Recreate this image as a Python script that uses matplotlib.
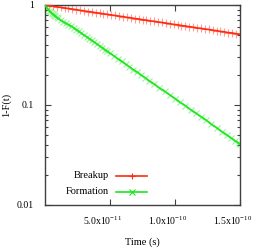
import matplotlib
matplotlib.use("Agg")
import matplotlib.pyplot as plt
import matplotlib.transforms as mtransforms
from matplotlib.ticker import FixedLocator, LogLocator, NullFormatter

plt.rcParams['font.family'] = ['Liberation Serif', 'DejaVu Serif']
plt.rcParams['mathtext.fontset'] = 'custom'
plt.rcParams['mathtext.rm'] = 'Liberation Serif'
plt.rcParams['mathtext.default'] = 'regular'

# Breakup survival (time in ps, value 1-F(t))
breakup_t = [0, 3, 6, 9, 12, 15, 18, 21, 24, 27, 30, 33, 36, 39, 42, 45, 48, 51, 54, 57,
             60, 63, 66, 69, 72, 75, 78, 81, 84, 87, 90, 93, 96, 99, 102, 105, 108, 111,
             114, 117, 120, 123, 126, 129, 132, 135, 138, 141, 144, 147, 150]
breakup_v = [1.000, 0.986, 0.975, 0.958, 0.948, 0.933, 0.923, 0.908, 0.899, 0.884,
             0.875, 0.860, 0.852, 0.837, 0.829, 0.815, 0.807, 0.793, 0.786, 0.772,
             0.765, 0.752, 0.745, 0.732, 0.725, 0.712, 0.706, 0.693, 0.687, 0.675,
             0.669, 0.657, 0.651, 0.639, 0.634, 0.622, 0.617, 0.606, 0.600, 0.589,
             0.584, 0.574, 0.569, 0.558, 0.554, 0.544, 0.539, 0.529, 0.525, 0.516, 0.510]

# Formation survival
formation_t = [0, 1, 2, 3, 4, 5, 6, 7, 8, 9, 10, 12, 14, 16, 18, 20, 22, 24, 26, 28,
               30, 32, 34, 36, 38, 40, 42, 44, 46, 48, 50, 53, 56, 59, 62, 65, 68, 71,
               74, 77, 80, 84, 88, 92, 96, 100, 104, 108, 112, 116, 120, 124, 128, 132,
               136, 140, 143, 146, 149, 150]
formation_v = [1.000, 0.950, 0.912, 0.881, 0.855, 0.832, 0.809, 0.789, 0.769, 0.750,
               0.733, 0.705, 0.679, 0.658, 0.637, 0.617, 0.592, 0.568, 0.545, 0.521,
               0.500, 0.482, 0.460, 0.443, 0.423, 0.407, 0.389, 0.374, 0.357, 0.344,
               0.329, 0.310, 0.290, 0.273, 0.256, 0.241, 0.225, 0.213, 0.199, 0.188,
               0.175, 0.162, 0.148, 0.137, 0.126, 0.116, 0.106, 0.0985, 0.0898, 0.0830,
               0.0765, 0.0705, 0.0643, 0.0592, 0.0543, 0.0500, 0.0470, 0.0441, 0.0414, 0.0405]

xticks = [5e-11, 1e-10, 1.5e-10]
xticklabels = [r'5.0x10$^{-11}$', r'1.0x10$^{-10}$', r'1.5x10$^{-10}$']
yticks = [0.01, 0.1, 1]
yticklabels = ['0.01', '0.1', '1']
series_names = ['Breakup', 'Formation']

red = '#ff2a10'
green = '#1ee61e'

fig = plt.figure(figsize=(2.55, 2.5), dpi=100)
ax = fig.add_axes([45/255, 1-205/250, 195/255, 200/250])

bt = [t * 1e-12 for t in breakup_t]
ft = [t * 1e-12 for t in formation_t]

ax.plot(bt, breakup_v, color=red, lw=1.2, zorder=3)
ax.plot(bt, breakup_v, ls='none', marker='+', ms=6, mew=0.8, color=red, alpha=0.45, zorder=2)
ax.plot(ft, formation_v, color=green, lw=1.2, zorder=3)
ax.plot(ft, formation_v, ls='none', marker='x', ms=5, mew=0.8, color=green, alpha=0.45, zorder=2)

ax.set_yscale('log')
ax.set_xlim(0, 1.5e-10)
ax.set_ylim(0.01, 1)

ax.xaxis.set_major_locator(FixedLocator(xticks))
ax.set_xticklabels([''] * len(xticks))
# gnuplot places these labels slightly left of the tick
xlab_tr = mtransforms.blended_transform_factory(ax.transData, ax.transAxes) + \
    mtransforms.ScaledTranslation(-7/100, -16/100, fig.dpi_scale_trans)
for xv, lab in zip(xticks, xticklabels):
    ax.text(xv, 0, lab, transform=xlab_tr, ha='center', va='center', fontsize=7)

ax.yaxis.set_major_locator(FixedLocator(yticks))
ax.set_yticklabels(yticklabels, fontsize=7)
ax.yaxis.set_minor_locator(LogLocator(base=10, subs=range(2, 10)))
ax.yaxis.set_minor_formatter(NullFormatter())

axcol = '#404040'
for s in ax.spines.values():
    s.set_color(axcol)
    s.set_linewidth(1.0)
ax.tick_params(which='both', direction='in', top=True, right=True, colors=axcol, labelcolor='black')
ax.tick_params(axis='x', which='major', length=4.5, width=0.8, pad=7)
ax.tick_params(axis='y', which='major', length=4.5, width=0.8, pad=8)
ax.tick_params(which='minor', length=2.5, width=0.8)

ax.set_xlabel('Time (s)', fontsize=7.5, labelpad=16)
ax.set_ylabel('1-F(t)', fontsize=7.5, labelpad=4)

# gnuplot-style key: text right-aligned, sample line to the right
key_text_x = (109 - 45) / 195
key_line_x0 = (116 - 45) / 195
key_line_x1 = (147 - 45) / 195
key_y = [(205 - 175.5) / 200, (205 - 192) / 200]
styles = [(red, '+', 5), (green, 'x', 4)]
for name, y, (c, m, ms) in zip(series_names, key_y, styles):
    ax.text(key_text_x, y, name, transform=ax.transAxes, ha='right', va='center',
            fontsize=7.5)
    ax.plot([key_line_x0, key_line_x1], [y, y], transform=ax.transAxes, color=c,
            lw=1.2, clip_on=False)
    ax.plot([(key_line_x0 + key_line_x1) / 2], [y], transform=ax.transAxes, color=c,
            marker=m, ms=ms, mew=0.8, clip_on=False)

fig.savefig('out.png', dpi=100)
